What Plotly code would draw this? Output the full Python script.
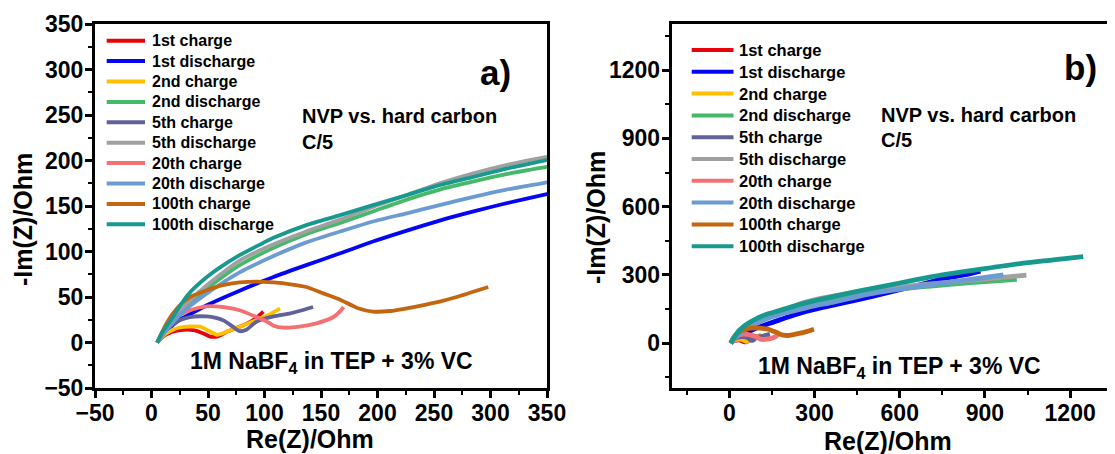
import plotly.graph_objects as go

# ---------------- data ----------------
series_names = ["1st charge", "1st discharge", "2nd charge", "2nd discharge",
                "5th charge", "5th discharge", "20th charge", "20th discharge",
                "100th charge", "100th discharge"]

x_1st_charge = [5, 8, 12, 18, 25, 37, 46, 52, 57, 62, 67, 78, 90, 99]
y_1st_charge = [0, 4, 8, 11.5, 13.7, 13.7, 10, 6.5, 6.3, 8.5, 12, 17.4, 24.7, 34]

x_1st_discharge = [5, 8, 12, 18, 25, 34, 49, 78, 108, 137, 167, 196, 226, 255, 285, 314, 350,
                   450, 550, 650, 750, 850, 884]
y_1st_discharge = [0, 5, 11, 18, 25, 31, 41, 57, 72, 85, 98, 111, 123, 134, 144, 153, 163,
                   190, 220, 250, 283, 306, 316]

x_2nd_charge = [5, 8, 12, 18, 25, 34, 43, 52, 58, 64, 70, 78, 93, 104, 113.7]
y_2nd_charge = [0, 4, 9, 13.5, 16.5, 17.6, 17.4, 12, 8.5, 10.5, 13.5, 17.4, 24.7, 30.5, 37.6]

x_2nd_discharge = [5, 8, 12, 18, 25, 34, 49, 78, 108, 137, 167, 196, 226, 255, 285, 314, 350,
                   500, 700, 850, 1012]
y_2nd_discharge = [0, 5, 12, 22, 32, 43, 59, 85, 104, 119, 131.5, 144, 157, 168, 177, 185, 193,
                   225, 250, 266, 280]

x_5th_charge = [5, 8, 12, 18, 25, 34, 49, 57, 64, 72, 78, 84, 93, 108, 123, 143]
y_5th_charge = [0, 5, 12, 19, 24.5, 28, 28.6, 27, 24, 17.4, 12.5, 14, 23, 28.6, 32, 39]

x_5th_discharge = [5, 8, 12, 18, 25, 34, 49, 78, 108, 137, 167, 196, 226, 255, 285, 314, 350,
                   500, 700, 900, 1046]
y_5th_discharge = [0, 5, 13, 23, 34, 46, 63, 90, 108, 122, 135, 149, 162, 175, 186, 195, 204,
                   233, 260, 282, 299]

x_20th_charge = [5, 8, 12, 18, 25, 34, 49, 63, 78, 93, 102, 108, 117, 131, 146, 161, 166, 170]
y_20th_charge = [0, 6, 14, 23, 30, 35.5, 39.7, 39, 35.5, 28, 23, 18.5, 16.3, 17.4, 21, 28, 33, 39]

x_20th_discharge = [5, 8, 12, 18, 25, 34, 49, 78, 108, 137, 167, 196, 226, 255, 285, 314, 350,
                    500, 700, 850, 965]
y_20th_discharge = [0, 5, 12, 21, 30, 40, 54, 77, 95, 110, 122, 133, 142, 151, 160, 168, 176,
                    218, 255, 280, 300]

x_100th_charge = [5, 8, 12, 19, 26, 34, 49, 63, 78, 93, 108, 123, 137, 152, 167, 182, 196,
                  211, 226, 255, 270, 298]
y_100th_charge = [0, 8, 18, 32, 42, 50, 57.5, 63, 66, 67, 66, 64, 61, 54, 47, 38, 34,
                  34.6, 37.6, 45, 50, 61]

x_100th_discharge = [5, 7, 10, 14, 19, 25, 34, 49, 60, 78, 95, 108, 137, 167, 196, 226, 255,
                     285, 314, 350, 450, 550, 650, 750, 900, 1024, 1141, 1246]
y_100th_discharge = [0, 5, 12, 19, 28, 40, 55, 72, 82, 96, 107, 115, 129, 140, 151, 162, 173,
                     182, 191, 200.5, 228, 252, 277, 300, 328, 350, 366, 381]

series_x = [x_1st_charge, x_1st_discharge, x_2nd_charge, x_2nd_discharge, x_5th_charge,
            x_5th_discharge, x_20th_charge, x_20th_discharge, x_100th_charge, x_100th_discharge]
series_y = [y_1st_charge, y_1st_discharge, y_2nd_charge, y_2nd_discharge, y_5th_charge,
            y_5th_discharge, y_20th_charge, y_20th_discharge, y_100th_charge, y_100th_discharge]

# ---------------- styles ----------------
colors = ["#e8020a", "#0505f5", "#ffc000", "#45b86a", "#62629a",
          "#a0a0a0", "#f47173", "#6c9bd2", "#c4650f", "#17998f"]

PAGE_W, PAGE_H = 1115, 454
OFF = 8                      # default page body margin
W, H = PAGE_W - OFF, PAGE_H - OFF
FONT = "Liberation Sans, Arial, sans-serif"


def px(x):
    return (x - OFF) / W


def py(y):
    return 1 - (y - OFF) / H


fig = go.Figure()

for (xa, ya, lw) in [("x", "y", 3.8), ("x2", "y2", 4.8)]:
    for name, xs, ys, c in zip(series_names, series_x, series_y, colors):
        fig.add_trace(go.Scatter(
            x=xs, y=ys, mode="lines", name=name, showlegend=False,
            line=dict(color=c, width=lw, shape="spline", smoothing=0.6),
            xaxis=xa, yaxis=ya, hoverinfo="skip"))

tickfont = dict(family=FONT, size=23, color="black", weight="bold")
common = dict(showgrid=False, zeroline=False, showline=True, linecolor="black", linewidth=3,
              ticks="outside", ticklen=7, tickwidth=3, tickcolor="black", tickfont=tickfont,
              automargin=False)
xcommon = dict(ticklabelstandoff=-5, **common)
ycommon = dict(ticklabelstandoff=-3, **common)

ydom = [py(388), py(24)]
fig.update_layout(
    template="none",
    width=W, height=H,
    margin=dict(l=0, r=0, t=0, b=0, pad=0),
    paper_bgcolor="white", plot_bgcolor="white",
    showlegend=False,
    xaxis=dict(domain=[px(95), px(547)], range=[-50, 350], anchor="y", tick0=0, dtick=50,
               mirror=True,
               minor=dict(dtick=25, ticks="outside", ticklen=4, tickwidth=2, tickcolor="black"),
               **xcommon),
    yaxis=dict(domain=ydom, range=[-50, 350], anchor="x", tick0=0, dtick=50, mirror=True,
               minor=dict(dtick=25, ticks="outside", ticklen=4, tickwidth=2, tickcolor="black"),
               **ycommon),
    xaxis2=dict(domain=[px(671.7), 1], range=[-203, 1358], anchor="y2", tick0=0, dtick=300,
                mirror=True,
                minor=dict(dtick=150, ticks="outside", ticklen=4, tickwidth=2, tickcolor="black"),
                **xcommon),
    yaxis2=dict(domain=ydom, range=[-197, 1403], anchor="x2", tick0=0, dtick=300, mirror=False,
                minor=dict(dtick=150, ticks="outside", ticklen=4, tickwidth=2, tickcolor="black"),
                **ycommon),
)

shapes = []
annotations = []


def text(x, y, s, size, xanchor="center", yanchor="middle", angle=0):
    annotations.append(dict(
        x=px(x), y=py(y), xref="paper", yref="paper", text=s, showarrow=False,
        xanchor=xanchor, yanchor=yanchor, textangle=angle,
        font=dict(family=FONT, size=size, color="black", weight="bold")))


# manual legends
legend_layouts = [
    dict(x0=106.7, x1=145, xt=150, y0=40.7, dy=20.4, size=16),
    dict(x0=691.7, x1=733.5, xt=737, y0=50.0, dy=21.8, size=16.5),
]
for lg in legend_layouts:
    for i, (name, c) in enumerate(zip(series_names, colors)):
        yc = lg["y0"] + i * lg["dy"]
        shapes.append(dict(type="line", xref="paper", yref="paper",
                           x0=px(lg["x0"]), x1=px(lg["x1"]), y0=py(yc), y1=py(yc),
                           line=dict(color=c, width=4)))
        text(lg["xt"], yc, name, lg["size"], xanchor="left")

# panel labels and notes
text(496, 73, "a)", 35)
text(1080, 68, "b)", 35)
text(300, 116, "NVP vs. hard carbon", 20, xanchor="left")
text(300, 142, "C/5", 20, xanchor="left")
text(878.6, 115, "NVP vs. hard carbon", 20, xanchor="left")
text(878.6, 140, "C/5", 20, xanchor="left")
text(331, 362, "1M NaBF<sub>4</sub> in TEP + 3% VC", 23)
text(899.5, 367, "1M NaBF<sub>4</sub> in TEP + 3% VC", 23)

# axis titles
text(310, 439, "Re(Z)/Ohm", 25)
text(887.6, 441, "Re(Z)/Ohm", 25)
text(23, 220, "-Im(Z)/Ohm", 25, angle=-90)
text(596, 218, "-Im(Z)/Ohm", 25, angle=-90)

fig.update_layout(shapes=shapes, annotations=annotations)

fig.write_html("out.html")
